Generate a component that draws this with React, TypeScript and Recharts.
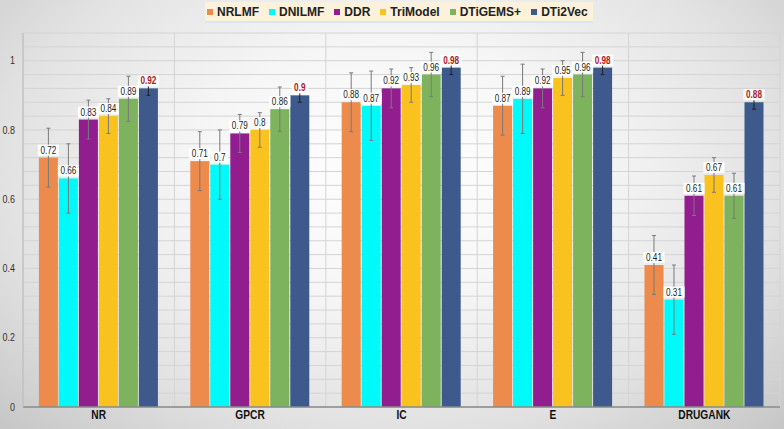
import React from 'react';
import { BarChart, Bar, XAxis, YAxis, CartesianGrid, LabelList } from 'recharts';

const categories = ['NR', 'GPCR', 'IC', 'E', 'DRUGANK'];
const nrlmf = [0.72, 0.71, 0.88, 0.87, 0.41];
const dnilmf = [0.66, 0.7, 0.87, 0.89, 0.31];
const ddr = [0.83, 0.79, 0.92, 0.92, 0.61];
const triModel = [0.84, 0.8, 0.93, 0.95, 0.67];
const dtigems = [0.89, 0.86, 0.96, 0.96, 0.61];
const dti2vec = [0.92, 0.9, 0.98, 0.98, 0.88];

const nrlmfErr = [0.085, 0.085, 0.085, 0.085, 0.085];
const dnilmfErr = [0.1, 0.1, 0.1, 0.1, 0.1];
const ddrErr = [0.056, 0.055, 0.056, 0.056, 0.057];
const triModelErr = [0.05, 0.05, 0.05, 0.05, 0.05];
const dtigemsErr = [0.065, 0.064, 0.064, 0.064, 0.065];
const dti2vecErr = [0.02, 0.02, 0.02, 0.02, 0.02];

const yTicks = [0, 0.04, 0.08, 0.12, 0.16, 0.2, 0.24, 0.28, 0.32, 0.36, 0.4, 0.44, 0.48, 0.52, 0.56, 0.6, 0.64, 0.68, 0.72, 0.76, 0.8, 0.84, 0.88, 0.92, 0.96, 1, 1.04, 1.08];
const majorTicks = ['0', '0.2', '0.4', '0.6', '0.8', '1'];

const series = [
  { key: 'NRLMF', values: nrlmf, errs: nrlmfErr, color: '#EC8B4C', errColor: '#7a7a7a' },
  { key: 'DNILMF', values: dnilmf, errs: dnilmfErr, color: '#00FAFA', errColor: '#7a7a7a' },
  { key: 'DDR', values: ddr, errs: ddrErr, color: '#911D8E', errColor: '#7a7a7a' },
  { key: 'TriModel', values: triModel, errs: triModelErr, color: '#F9C21F', errColor: '#7a7a7a' },
  { key: 'DTiGEMS+', values: dtigems, errs: dtigemsErr, color: '#7EB35D', errColor: '#7a7a7a' },
  { key: 'DTi2Vec', values: dti2vec, errs: dti2vecErr, color: '#3E5A8D', errColor: '#222222' },
];

const data = categories.map((c, i) => {
  const row: any = { name: c };
  series.forEach((s) => {
    row[s.key] = s.values[i];
    row[s.key + '_err'] = s.errs[i];
  });
  return row;
});

const FONT = '"Liberation Sans", Arial, sans-serif';
const W = 784;
const H = 429;
const MARGIN = { top: 33, right: 4, bottom: 0, left: 0 };
const Y_W = 23;
const X_H = 22;
const SX = 0.82;

const textWidth = (t: string) => {
  let w = 0;
  for (const ch of t) w += ch === '.' ? 2.8 : 5.6;
  return w;
};

const makeShape = (key: string, color: string, errColor: string) => (props: any) => {
  const { x, y, width, height, payload } = props;
  const value = payload[key];
  const err = payload[key + '_err'];
  const pxPerUnit = value ? height / value : 0;
  const e = err * pxPerUnit;
  const cx = x + width / 2;
  return (
    <g>
      <rect x={x} y={y} width={width} height={height} fill={color} />
      <line x1={cx} x2={cx} y1={y - e} y2={y + e} stroke={errColor} strokeWidth={1} />
      <line x1={cx - 2} x2={cx + 2} y1={y - e} y2={y - e} stroke={errColor} strokeWidth={1} />
      <line x1={cx - 2} x2={cx + 2} y1={y + e} y2={y + e} stroke={errColor} strokeWidth={1} />
    </g>
  );
};

const makeLabel = (highlight: boolean) => (props: any) => {
  const { x, y, width, value } = props;
  const t = String(value);
  const w = textWidth(t) * SX + 5;
  const cx = x + width / 2;
  return (
    <g>
      <rect x={cx - w / 2} y={y - 13} width={w} height={11} fill="#ffffff" />
      <text
        transform={`translate(${cx},${y - 4}) scale(${SX},1)`}
        x={0}
        y={0}
        textAnchor="middle"
        fontFamily={FONT}
        fontSize={10}
        fontWeight={highlight ? 'bold' : 'normal'}
        fill={highlight ? '#B0161A' : '#222'}
      >
        {t}
      </text>
    </g>
  );
};

const YTick = (props: any) => {
  const { x, y, payload } = props;
  const s = String(Math.round(payload.value * 100) / 100);
  if (!majorTicks.includes(s)) return null;
  return (
    <text
      transform={`translate(${x},${y}) scale(0.85,1)`}
      x={0}
      y={0}
      dy="0.35em"
      textAnchor="end"
      fontFamily={FONT}
      fontSize={10.5}
      fill="#333"
    >
      {s}
    </text>
  );
};

const XTick = (props: any) => {
  const { x, y, payload } = props;
  return (
    <text
      transform={`translate(${x},${y + 12}) scale(0.85,1)`}
      x={0}
      y={0}
      textAnchor="middle"
      fontFamily={FONT}
      fontSize={12}
      fontWeight="bold"
      fill="#111"
    >
      {payload.value}
    </text>
  );
};

const LegendBox = () => (
  <div
    style={{
      position: 'absolute',
      left: 205,
      top: 2,
      width: 388,
      height: 21,
      display: 'flex',
      justifyContent: 'flex-start',
      alignItems: 'center',
      paddingLeft: 2,
      boxSizing: 'border-box',
      background: '#FCF1DA',
      borderBottom: '2px solid #DDE3F2',
      fontFamily: FONT,
      fontWeight: 'bold',
      fontSize: 12,
      color: '#222',
      zIndex: 2,
    }}
  >
    {series.map((s) => (
      <div key={s.key} style={{ display: 'flex', alignItems: 'center', marginRight: 10 }}>
        <div style={{ width: 6, height: 6, background: s.color, marginRight: 4 }} />
        <span>{s.key}</span>
      </div>
    ))}
  </div>
);

export default function App() {
  return (
    <div
      style={{
        position: 'absolute',
        left: 0,
        top: 0,
        width: W,
        height: H,
        background: 'radial-gradient(ellipse at 50% 40%, #ffffff 0%, #f6f6f6 35%, #e2e2e2 70%, #c6c6c6 100%)',
      }}
    >
      <LegendBox />
      <div style={{ position: 'absolute', left: 0, top: 0 }}>
        <BarChart width={W} height={H} data={data} margin={MARGIN} barCategoryGap="10.5%" barGap={1}>
          <CartesianGrid
            stroke="#d4d4d4"
            strokeWidth={1}
            verticalCoordinatesGenerator={({ offset }: any) =>
              [0, 1, 2, 3, 4, 5].map((i) => offset.left + (i * offset.width) / 5)
            }
          />
          <XAxis
            dataKey="name"
            height={X_H}
            tickLine={false}
            axisLine={{ stroke: '#8a8a8a', strokeWidth: 1.5 }}
            tick={<XTick />}
            tickMargin={0}
            tickSize={0}
          />
          <YAxis
            width={Y_W}
            domain={[0, 1.08]}
            ticks={yTicks}
            interval={0}
            tickLine={false}
            tickSize={0}
            tickMargin={8}
            axisLine={{ stroke: '#b8b8b8' }}
            tick={<YTick />}
          />
          {series.map((s) => (
            <Bar
              key={s.key}
              dataKey={s.key}
              fill={s.color}
              isAnimationActive={false}
              shape={makeShape(s.key, s.color, s.errColor)}
            />
          ))}
        </BarChart>
      </div>
      <div style={{ position: 'absolute', left: 0, top: 0, zIndex: 1 }}>
        <BarChart
          width={W}
          height={H}
          data={data}
          margin={{ top: MARGIN.top, right: MARGIN.right, bottom: MARGIN.bottom + X_H, left: MARGIN.left + Y_W }}
          barCategoryGap="10.5%"
          barGap={1}
        >
          <XAxis dataKey="name" hide />
          <YAxis domain={[0, 1.08]} hide />
          {series.map((s, idx) => (
            <Bar key={s.key} dataKey={s.key} fill="none" fillOpacity={0} isAnimationActive={false}>
              <LabelList dataKey={s.key} content={makeLabel(idx === series.length - 1)} />
            </Bar>
          ))}
        </BarChart>
      </div>
    </div>
  );
}
